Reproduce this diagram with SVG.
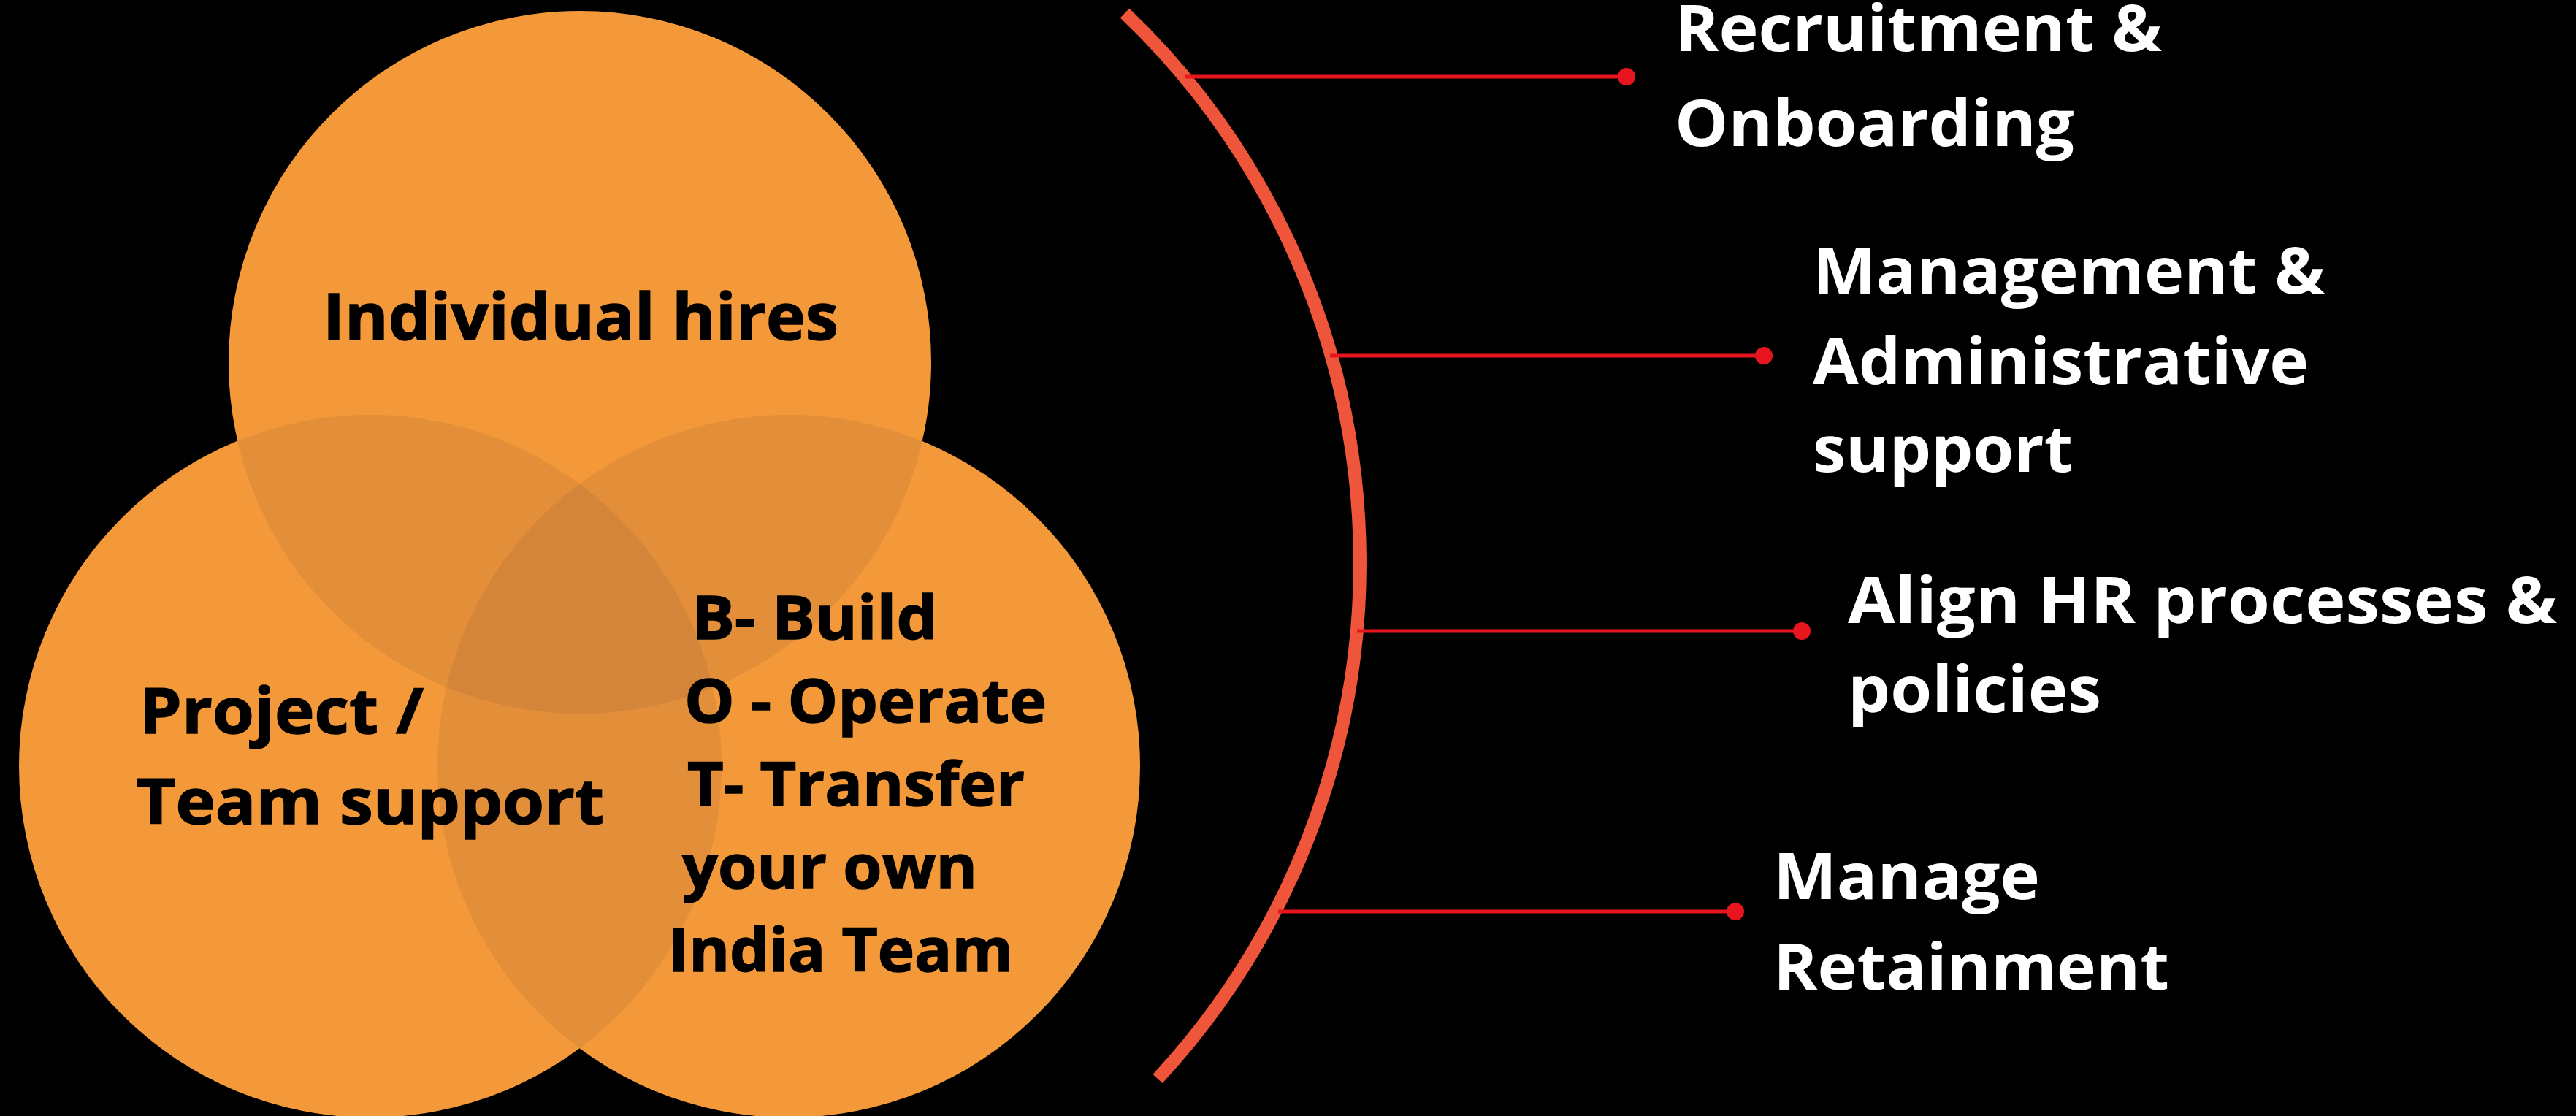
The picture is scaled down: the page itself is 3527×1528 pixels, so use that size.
<svg xmlns="http://www.w3.org/2000/svg" width="3527" height="1528" viewBox="0 0 3527 1528">
<style>
.bg{fill:#000}
.circ{fill:#F4993A}
.lens{fill:#E38E38}
.core{fill:#D4853A}
.dark{font-family:"Open Sans","Noto Sans","Liberation Sans",sans-serif;font-weight:700;fill:#000;stroke:#000;stroke-width:1.5}
.light{font-family:"Open Sans","Noto Sans","Liberation Sans",sans-serif;font-weight:700;fill:#fff;font-size:87px}
.arc{fill:none;stroke:#EF553A;stroke-width:18;stroke-linecap:butt}
.conn{stroke:#E8141E;stroke-width:5}
.dot{fill:#E8141E}
</style>
<defs>
<clipPath id="cT"><circle cx="794" cy="496" r="481"/></clipPath>
<clipPath id="cL"><circle cx="507" cy="1049" r="481"/></clipPath>
</defs>
<rect class="bg" x="0" y="0" width="3527" height="1528"/>
<g id="circle-top"><circle class="circ" cx="794" cy="496" r="481"/></g>
<g id="circle-left"><circle class="circ" cx="507" cy="1049" r="481"/></g>
<g id="circle-right"><circle class="circ" cx="1080" cy="1049" r="481"/></g>
<g id="overlaps">
<g clip-path="url(#cT)">
<circle class="lens" cx="507" cy="1049" r="481"/>
<circle class="lens" cx="1080" cy="1049" r="481"/>
</g>
<g clip-path="url(#cL)">
<circle class="lens" cx="1080" cy="1049" r="481"/>
<g clip-path="url(#cT)"><circle class="core" cx="1080" cy="1049" r="481"/></g>
</g>
</g>
<g id="label-individual"><text class="dark" x="442" y="465" font-size="88" textLength="706" lengthAdjust="spacingAndGlyphs">Individual hires</text></g>
<g id="label-project">
<text class="dark" x="191" y="1004" font-size="86" textLength="389" lengthAdjust="spacingAndGlyphs">Project /</text>
<text class="dark" x="187" y="1128" font-size="86" textLength="640" lengthAdjust="spacingAndGlyphs">Team support</text>
</g>
<g id="label-bot">
<text class="dark" x="947" y="875" font-size="83" textLength="336" lengthAdjust="spacingAndGlyphs">B- Build</text>
<text class="dark" x="937" y="989" font-size="83" textLength="496" lengthAdjust="spacingAndGlyphs">O - Operate</text>
<text class="dark" x="941" y="1103" font-size="83" textLength="462" lengthAdjust="spacingAndGlyphs">T- Transfer</text>
<text class="dark" x="934" y="1216" font-size="83" textLength="404" lengthAdjust="spacingAndGlyphs">your own</text>
<text class="dark" x="915" y="1330" font-size="83" textLength="472" lengthAdjust="spacingAndGlyphs">India Team</text>
</g>
<g id="arc"><path class="arc" d="M 1540 18 A 1040 1040 0 0 1 1585 1477"/></g>
<g id="connectors">
<line class="conn" x1="1622" y1="105" x2="2227" y2="105"/><circle class="dot" cx="2227" cy="105" r="12"/>
<line class="conn" x1="1821" y1="487" x2="2415" y2="487"/><circle class="dot" cx="2415" cy="487" r="12"/>
<line class="conn" x1="1858" y1="864" x2="2467" y2="864"/><circle class="dot" cx="2467" cy="864" r="12"/>
<line class="conn" x1="1750" y1="1248" x2="2376" y2="1248"/><circle class="dot" cx="2376" cy="1248" r="12"/>
</g>
<g id="item-recruitment">
<text class="light" x="2293" y="70" textLength="667" lengthAdjust="spacingAndGlyphs">Recruitment &amp;</text>
<text class="light" x="2293" y="200" textLength="547" lengthAdjust="spacingAndGlyphs">Onboarding</text>
</g>
<g id="item-management">
<text class="light" x="2482" y="402" textLength="701" lengthAdjust="spacingAndGlyphs">Management &amp;</text>
<text class="light" x="2482" y="526" textLength="679" lengthAdjust="spacingAndGlyphs">Administrative</text>
<text class="light" x="2482" y="646" textLength="356" lengthAdjust="spacingAndGlyphs">support</text>
</g>
<g id="item-align">
<text class="light" x="2530" y="853" textLength="971" lengthAdjust="spacingAndGlyphs">Align HR processes &amp;</text>
<text class="light" x="2530" y="975" textLength="347" lengthAdjust="spacingAndGlyphs">policies</text>
</g>
<g id="item-retain">
<text class="light" x="2428" y="1231" textLength="365" lengthAdjust="spacingAndGlyphs">Manage</text>
<text class="light" x="2428" y="1355" textLength="542" lengthAdjust="spacingAndGlyphs">Retainment</text>
</g>
</svg>
